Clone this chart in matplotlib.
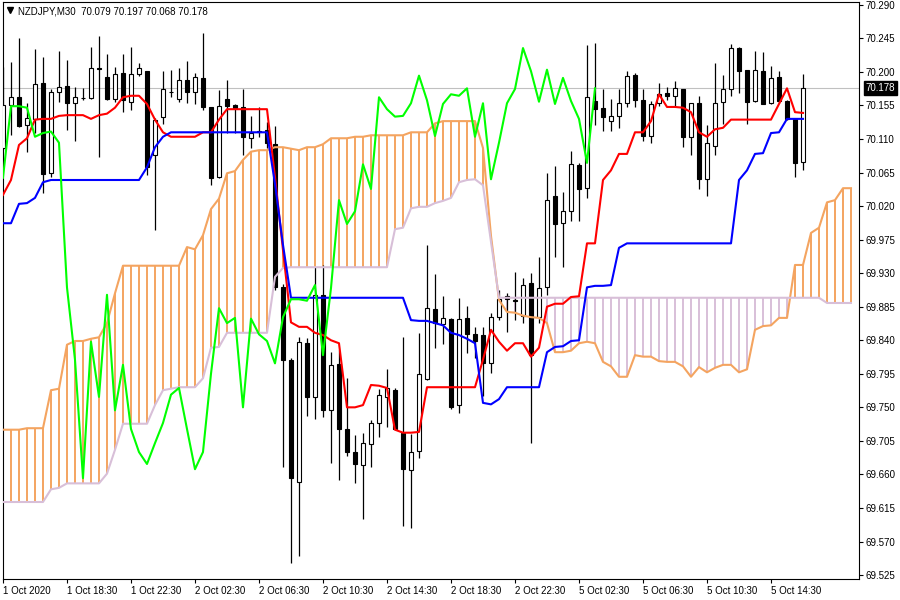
import numpy as np
import matplotlib
matplotlib.use('Agg')
import matplotlib.pyplot as plt

# NZDJPY M30 candles (bar 0 = 1 Oct 14:30)
opens = [
    70.098, 70.156, 70.166, 70.129, 70.137, 70.185, 70.064, 70.173, 70.181, 70.158,
    70.165, 70.165, 70.205, 70.193, 70.164, 70.199, 70.160, 70.197, 70.201, 70.089,
    70.140, 70.173, 70.164, 70.189, 70.173, 70.192, 70.153, 70.059, 70.164, 70.156,
    70.153, 70.111, 70.121, 70.122, 70.103, 69.911, 69.814, 69.650, 69.836, 69.764,
    69.901, 69.746, 69.808, 69.721, 69.690, 69.673, 69.701, 69.729, 69.764, 69.773,
    69.716, 69.666, 69.691, 69.788, 69.882, 69.862, 69.869, 69.753, 69.870, 69.848,
    69.847, 69.809, 69.871, 69.899, 69.894, 69.873, 69.917, 69.871, 69.911, 70.034,
    69.997, 70.013, 70.075, 70.044, 70.161, 70.152, 70.134, 70.141, 70.158, 70.196,
    70.162, 70.114, 70.158, 70.172, 70.168, 70.177, 70.113, 70.158, 70.056, 70.101,
    70.160, 70.177, 70.232, 70.203, 70.161, 70.201, 70.158, 70.193, 70.161, 70.137,
    70.079]
highs = [
    70.207, 70.213, 70.246, 70.158, 70.231, 70.220, 70.177, 70.228, 70.216, 70.180,
    70.178, 70.233, 70.248, 70.224, 70.207, 70.224, 70.233, 70.212, 70.201, 70.138,
    70.201, 70.203, 70.205, 70.215, 70.199, 70.252, 70.153, 70.176, 70.189, 70.157,
    70.177, 70.141, 70.153, 70.133, 70.127, 69.915, 69.816, 69.844, 69.843, 69.938,
    69.941, 69.824, 69.827, 69.789, 69.713, 69.716, 69.733, 69.775, 69.801, 69.776,
    69.844, 69.714, 69.850, 69.968, 69.929, 69.899, 69.870, 69.897, 69.886, 69.858,
    69.858, 69.877, 69.907, 69.903, 69.932, 69.924, 69.930, 69.952, 70.064, 70.074,
    70.039, 70.094, 70.078, 70.236, 70.239, 70.177, 70.164, 70.177, 70.201, 70.199,
    70.177, 70.161, 70.185, 70.180, 70.188, 70.177, 70.158, 70.168, 70.129, 70.212,
    70.196, 70.237, 70.233, 70.203, 70.228, 70.227, 70.208, 70.201, 70.162, 70.137,
    70.197]
lows = [
    70.095, 70.115, 70.126, 70.093, 70.118, 70.038, 70.059, 70.160, 70.122, 70.107,
    70.162, 70.164, 70.086, 70.162, 70.160, 70.146, 70.149, 70.195, 70.062, 69.988,
    70.130, 70.166, 70.160, 70.158, 70.157, 70.149, 70.048, 70.058, 70.118, 70.118,
    70.089, 70.098, 70.113, 70.098, 69.907, 69.670, 69.541, 69.551, 69.738, 69.734,
    69.737, 69.675, 69.652, 69.685, 69.648, 69.600, 69.670, 69.710, 69.724, 69.720,
    69.591, 69.588, 69.682, 69.787, 69.830, 69.835, 69.748, 69.742, 69.823, 69.816,
    69.765, 69.796, 69.867, 69.851, 69.867, 69.863, 69.702, 69.863, 69.901, 69.952,
    69.938, 70.000, 70.000, 70.031, 70.129, 70.121, 70.121, 70.125, 70.153, 70.153,
    70.107, 70.105, 70.154, 70.162, 70.153, 70.099, 70.089, 70.043, 70.034, 70.089,
    70.130, 70.168, 70.172, 70.130, 70.160, 70.157, 70.157, 70.158, 70.136, 70.059,
    70.068]
closes = [
    70.156, 70.166, 70.127, 70.138, 70.184, 70.063, 70.173, 70.180, 70.158, 70.166,
    70.165, 70.205, 70.204, 70.164, 70.197, 70.162, 70.197, 70.205, 70.072, 70.136,
    70.177, 70.173, 70.189, 70.173, 70.193, 70.153, 70.058, 70.154, 70.154, 70.152,
    70.113, 70.118, 70.120, 70.105, 69.911, 69.814, 69.655, 69.838, 69.764, 69.901,
    69.746, 69.807, 69.721, 69.690, 69.674, 69.702, 69.729, 69.767, 69.776, 69.721,
    69.667, 69.690, 69.795, 69.883, 69.863, 69.870, 69.750, 69.869, 69.848, 69.839,
    69.809, 69.871, 69.895, 69.895, 69.893, 69.914, 69.820, 69.910, 70.028, 69.996,
    70.013, 70.076, 70.043, 70.166, 70.150, 70.140, 70.141, 70.158, 70.195, 70.162,
    70.114, 70.157, 70.170, 70.168, 70.178, 70.113, 70.158, 70.056, 70.105, 70.158,
    70.177, 70.232, 70.201, 70.160, 70.203, 70.157, 70.192, 70.161, 70.137, 70.078,
    70.178]

# Ichimoku lines
tenkan = [
    70.035, 70.055, 70.102, 70.111, 70.136, 70.137, 70.137, 70.141, 70.142, 70.142,
    70.142, 70.137, 70.142, 70.144, 70.152, 70.166, 70.168, 70.168, 70.157, 70.136,
    70.119, 70.113, 70.113, 70.113, 70.113, 70.119, 70.119, 70.136, 70.150, 70.150,
    70.150, 70.150, 70.150, 70.150, 70.059, 69.961, 69.864, 69.858, 69.858, 69.850,
    69.847, 69.840, 69.836, 69.750, 69.750, 69.753, 69.780, 69.779, 69.776, 69.720,
    69.716, 69.716, 69.717, 69.777, 69.777, 69.777, 69.777, 69.777, 69.777, 69.777,
    69.814, 69.854, 69.838, 69.826, 69.836, 69.836, 69.818, 69.830, 69.885, 69.889,
    69.889, 69.898, 69.899, 69.970, 69.970, 70.055, 70.068, 70.090, 70.090, 70.119,
    70.119, 70.134, 70.170, 70.153, 70.153, 70.152, 70.146, 70.119, 70.113, 70.123,
    70.125, 70.136, 70.136, 70.136, 70.136, 70.136, 70.136, 70.157, 70.178, 70.146,
    70.145]
kijun = [
    69.997, 69.997, 70.023, 70.024, 70.031, 70.052, 70.055, 70.055, 70.055, 70.055,
    70.055, 70.055, 70.055, 70.055, 70.055, 70.055, 70.055, 70.055, 70.072, 70.099,
    70.113, 70.119, 70.119, 70.119, 70.119, 70.119, 70.119, 70.119, 70.119, 70.119,
    70.119, 70.119, 70.119, 70.119, 70.050, 69.968, 69.897, 69.897, 69.897, 69.897,
    69.897, 69.897, 69.897, 69.897, 69.897, 69.897, 69.897, 69.897, 69.897, 69.897,
    69.897, 69.867, 69.866, 69.866, 69.863, 69.860, 69.850, 69.847, 69.842, 69.836,
    69.756, 69.754, 69.761, 69.777, 69.777, 69.777, 69.777, 69.777, 69.824, 69.831,
    69.832, 69.839, 69.840, 69.911, 69.913, 69.913, 69.914, 69.964, 69.970, 69.970,
    69.970, 69.970, 69.970, 69.970, 69.970, 69.970, 69.970, 69.970, 69.970, 69.970,
    69.970, 69.970, 70.055, 70.068, 70.090, 70.091, 70.118, 70.119, 70.137, 70.137,
    70.137]
span_a = [
    69.720, 69.720, 69.720, 69.722, 69.722, 69.722, 69.773, 69.775, 69.834, 69.839,
    69.839, 69.842, 69.844, 69.863, 69.903, 69.940, 69.940, 69.940, 69.940, 69.940,
    69.940, 69.940, 69.940, 69.965, 69.962, 69.981, 70.016, 70.030, 70.064, 70.067,
    70.082, 70.093, 70.095, 70.095, 70.099, 70.099, 70.097, 70.095, 70.099, 70.099,
    70.103, 70.111, 70.111, 70.111, 70.113, 70.113, 70.115, 70.115, 70.115, 70.115,
    70.115, 70.119, 70.119, 70.119, 70.131, 70.134, 70.134, 70.134, 70.134, 70.134,
    70.098, 69.980, 69.894, 69.878, 69.877, 69.873, 69.871, 69.870, 69.863, 69.824,
    69.824, 69.826, 69.836, 69.838, 69.836, 69.811, 69.805, 69.791, 69.791, 69.820,
    69.818, 69.818, 69.812, 69.811, 69.811, 69.805, 69.791, 69.804, 69.797, 69.803,
    69.807, 69.807, 69.797, 69.801, 69.854, 69.859, 69.860, 69.870, 69.870, 69.941,
    69.941, 69.984, 69.991, 70.025, 70.028, 70.044, 70.044]
span_b = [
    69.623, 69.623, 69.623, 69.623, 69.623, 69.623, 69.640, 69.642, 69.648, 69.648,
    69.648, 69.648, 69.648, 69.661, 69.693, 69.728, 69.728, 69.728, 69.728, 69.753,
    69.773, 69.775, 69.777, 69.777, 69.777, 69.789, 69.830, 69.831, 69.850, 69.850,
    69.850, 69.850, 69.850, 69.850, 69.925, 69.937, 69.938, 69.938, 69.938, 69.938,
    69.938, 69.938, 69.938, 69.938, 69.938, 69.938, 69.938, 69.938, 69.938, 69.989,
    69.991, 70.017, 70.019, 70.019, 70.024, 70.027, 70.031, 70.052, 70.055, 70.056,
    70.048, 69.972, 69.897, 69.897, 69.897, 69.897, 69.897, 69.897, 69.897, 69.897,
    69.897, 69.897, 69.897, 69.897, 69.897, 69.897, 69.897, 69.897, 69.897, 69.897,
    69.897, 69.897, 69.897, 69.897, 69.897, 69.897, 69.897, 69.897, 69.897, 69.897,
    69.897, 69.897, 69.897, 69.897, 69.897, 69.897, 69.897, 69.897, 69.897, 69.897,
    69.897, 69.897, 69.897, 69.890, 69.890, 69.890, 69.890]

time_labels = ['1 Oct 2020', '1 Oct 18:30', '1 Oct 22:30', '2 Oct 02:30', '2 Oct 06:30',
               '2 Oct 10:30', '2 Oct 14:30', '2 Oct 18:30', '2 Oct 22:30', '5 Oct 02:30',
               '5 Oct 06:30', '5 Oct 10:30', '5 Oct 14:30']
symbol = 'NZDJPY,M30'
shift = 26

plt.rcParams['font.family'] = ['Liberation Sans', 'DejaVu Sans']

fig = plt.figure(figsize=(9, 6), dpi=100)
ax = fig.add_axes([2.5 / 900, 21 / 600, 856.5 / 900, 576.7 / 600])

o = np.array(opens)
h = np.array(highs)
l = np.array(lows)
c = np.array(closes)
x = np.arange(len(c))

# cloud hatch
a = np.array(span_a)
b = np.array(span_b)
xc = np.arange(len(a))
up = a >= b
ax.vlines(xc[up], b[up], a[up], color='#F4A460', lw=1.4, zorder=1)
ax.vlines(xc[~up], a[~up], b[~up], color='#D8BFD8', lw=1.4, zorder=1)

# bid line
ax.axhline(c[-1], color='#C0C0C0', lw=0.8, zorder=0.5)

# candles
ax.vlines(x, l, h, color='black', lw=0.9, zorder=2)
bull = c >= o
ax.bar(x[bull], (c - o)[bull], bottom=o[bull], width=0.62, facecolor='white',
       edgecolor='black', linewidth=0.8, zorder=3)
ax.bar(x[~bull], (c - o)[~bull], bottom=o[~bull], width=0.62, facecolor='black',
       edgecolor='black', linewidth=0.8, zorder=3)

# ichimoku lines
ax.plot(xc, a, color='#F4A460', lw=1.5, zorder=4)
ax.plot(xc, b, color='#D8BFD8', lw=1.5, zorder=4)
ax.plot(x, tenkan, color='#FF0000', lw=1.5, zorder=5)
ax.plot(x, kijun, color='#0000FF', lw=1.5, zorder=5)
ax.plot(x[:len(c) - shift], c[shift:], color='#00FF00', lw=1.5, zorder=5)

ax.set_xlim(-0.06, 107.0)
ax.set_ylim(69.5197, 70.2934)

yticks = np.round(69.525 + 0.045 * np.arange(18), 3)
ax.yaxis.tick_right()
ax.set_yticks(yticks)
ax.set_yticklabels([f'{v:.3f}' for v in yticks])
ax.set_xticks(np.arange(0, 8 * len(time_labels), 8))
ax.set_xticklabels(time_labels, ha='left')
ax.tick_params(axis='both', direction='out', length=3, width=0.8,
               labelsize=7, colors='black', pad=2)
for s in ax.spines.values():
    s.set_color('black')
    s.set_linewidth(0.8)

# current price label
ax.annotate(f'{c[-1]:.3f}', xy=(1, c[-1]), xycoords=('axes fraction', 'data'),
            xytext=(4.8, 0), textcoords='offset points', ha='left', va='center',
            fontsize=7, color='white', annotation_clip=False,
            bbox=dict(boxstyle='square,pad=0.2', fc='black', ec='black'))

# header
ax.plot([10 / 900], [1 - 10 / 600], marker='v', color='black', markersize=4,
        transform=fig.transFigure, clip_on=False)
fig.text(18 / 900, 1 - 11 / 600,
         f'{symbol}  {opens[-1]:.3f} {highs[-1]:.3f} {lows[-1]:.3f} {closes[-1]:.3f}',
         fontsize=7, va='center', ha='left')

fig.savefig('out.png', dpi=100)
